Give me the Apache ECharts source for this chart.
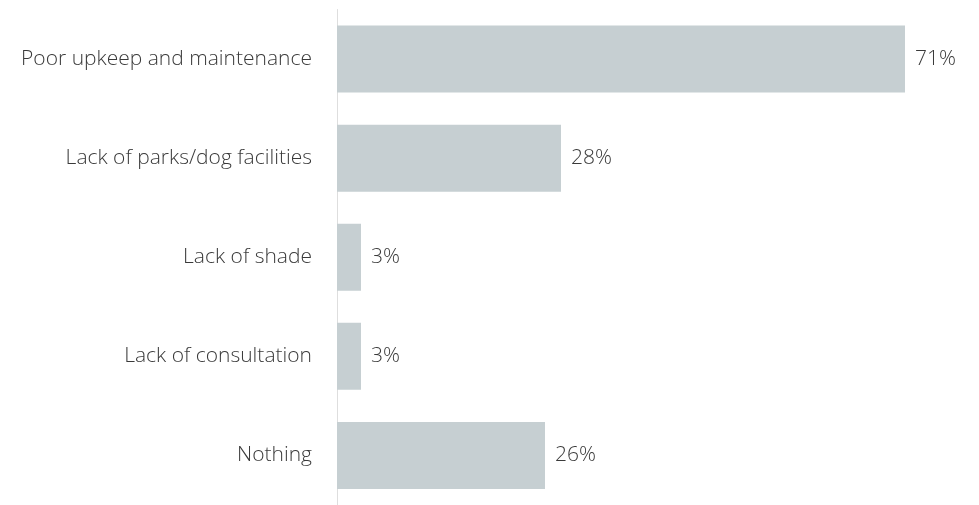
<!DOCTYPE html>
<html>
<head>
<meta charset="utf-8">
<script src="https://cdn.jsdelivr.net/npm/echarts@6/dist/echarts.min.js"></script>
<style>
  html, body { margin: 0; padding: 0; background: #fff; }
  #chart { width: 979px; height: 505px; }
</style>
</head>
<body>
<div id="chart"></div>
<script>
// Reasons given, top to bottom
const categories = [
  'Poor upkeep and maintenance',
  'Lack of parks/dog facilities',
  'Lack of shade',
  'Lack of consultation',
  'Nothing'
];
// Share of respondents (%)
const values = [71, 28, 3, 3, 26];

const FONT = '"Open Sans", "Noto Sans", sans-serif';

const chart = echarts.init(document.getElementById('chart'), null, { renderer: 'canvas' });
chart.setOption({
  animation: false,
  backgroundColor: '#ffffff',
  grid: { left: 337, top: 9.5, width: 640, height: 500, containLabel: false },
  xAxis: {
    type: 'value',
    min: 0,
    max: 80,
    show: false
  },
  yAxis: {
    type: 'category',
    data: categories,
    inverse: true,
    axisLine: { show: true, lineStyle: { color: '#dedede', width: 1 } },
    axisTick: { show: false },
    axisLabel: {
      margin: 25,
      fontFamily: FONT,
      fontWeight: 300,
      fontSize: 21,
      color: '#3a3a3a'
    },
    splitLine: { show: false }
  },
  series: [{
    type: 'bar',
    data: values,
    barWidth: 67,
    itemStyle: { color: '#c6cfd2' },
    label: {
      show: true,
      position: 'right',
      distance: 10,
      formatter: '{c}%',
      fontFamily: FONT,
      fontWeight: 300,
      fontSize: 21,
      color: '#3a3a3a'
    }
  }]
});
</script>
</body>
</html>
